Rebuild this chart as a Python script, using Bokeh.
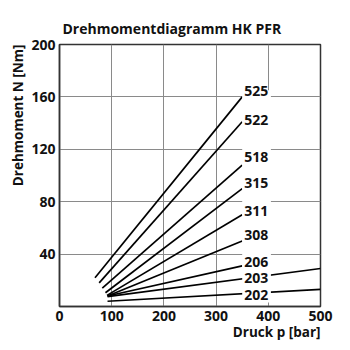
from bokeh.plotting import figure
from bokeh.models import Range1d, FixedTicker, Title, ColumnDataSource
from bokeh.core.properties import value
from bokeh.embed import file_html
from bokeh.resources import INLINE

# ---- data ----
series = ["525", "522", "518", "315", "311", "308", "206", "203", "202"]
p_start = [68, 76, 82, 88, 91, 92, 92, 92, 92]
n_start = [22, 18, 14, 10.5, 8.5, 8, 8, 7.5, 4]
p_end = [350, 350, 350, 350, 350, 350, 350, 500, 500]
n_end = [160, 141, 108, 90, 70, 50, 31, 29, 13]
label_p = [354, 354, 354, 354, 354, 354, 354, 354, 354]
label_n = [164.4, 142.3, 113.9, 94.5, 73.1, 54.2, 34.3, 21.6, 9.0]
x_ticks = [0, 100, 200, 300, 400, 500]
y_ticks = [40, 80, 120, 160, 200]

# label column mask (white area behind the series labels)
mask_left, mask_right, mask_bottom, mask_top = [350], [405], [3], [165]

FONT = "Open Sans"
DARK = "#333333"
TXT = "#111111"

p = figure(width=350, height=350, x_range=Range1d(0, 500), y_range=Range1d(0, 200),
           output_backend="svg", toolbar_location=None,
           min_border_left=59, min_border_right=30, min_border_top=44, min_border_bottom=44)
p.background_fill_color = "white"
p.border_fill_color = "white"
p.outline_line_color = DARK
p.outline_line_width = 1.5

p.title.text = "Drehmomentdiagramm HK PFR"
p.title.align = "left"
p.title.offset = 3
p.title.standoff = 13
p.title.text_font = FONT
p.title.text_font_style = "bold"
p.title.text_font_size = "14px"
p.title.text_color = TXT

# axes
p.xaxis.ticker = FixedTicker(ticks=x_ticks)
p.yaxis.ticker = FixedTicker(ticks=y_ticks)
for ax in (p.xaxis[0], p.yaxis[0]):
    ax.major_tick_in = 0
    ax.major_tick_out = 0
    ax.minor_tick_in = 0
    ax.minor_tick_out = 0
    ax.axis_line_color = DARK
    ax.axis_line_width = 1.5
    ax.major_label_text_font = FONT
    ax.major_label_text_font_style = "bold"
    ax.major_label_text_font_size = "14px"
    ax.major_label_text_color = TXT
    ax.major_label_standoff = 4

# grids
p.xgrid.ticker = FixedTicker(ticks=x_ticks[1:-1])
p.ygrid.ticker = FixedTicker(ticks=y_ticks[:-1])
for g in (p.xgrid[0], p.ygrid[0]):
    g.grid_line_color = "#8a8a8a"
    g.grid_line_width = 1
    g.grid_line_alpha = 1.0

# axis titles
xt = Title(text="Druck p [bar]", align="right", text_font=FONT, text_font_style="bold",
           text_font_size="13.5px", text_color=TXT, standoff=-5)
p.add_layout(xt, "below")
yt = Title(text="Drehmoment N [Nm]", align="right", text_font=FONT, text_font_style="bold",
           text_font_size="13.5px", text_color=TXT, standoff=4)
p.add_layout(yt, "left")

src = ColumnDataSource(dict(x0=p_start, y0=n_start, x1=p_end, y1=n_end,
                            lx=label_p, ly=label_n, name=series))
p.segment(x0="x0", y0="y0", x1="x1", y1="y1", source=src, line_color="black", line_width=1.7)

p.quad(left=mask_left, right=mask_right, bottom=mask_bottom, top=mask_top,
       fill_color="white", line_color=None)

p.text(x="lx", y="ly", text="name", source=src, text_font=value(FONT),
       text_font_style="bold", text_font_size=value("14px"), text_baseline="middle",
       text_align="left", text_color=TXT)

open("out.html", "w").write(file_html(p, INLINE))
